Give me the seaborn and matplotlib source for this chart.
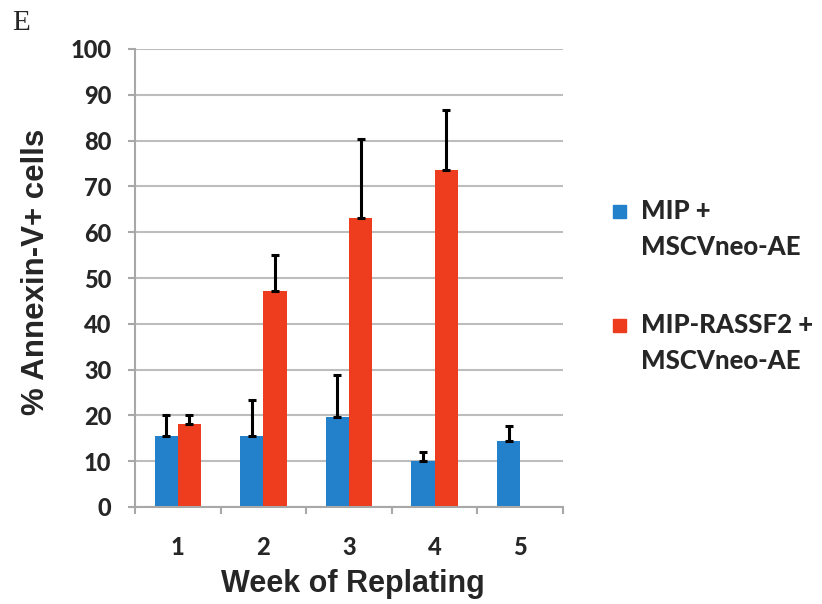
import numpy as np
import pandas as pd
import matplotlib
matplotlib.use("Agg")
import matplotlib.pyplot as plt
import seaborn as sns
from matplotlib.patches import Rectangle
from matplotlib.legend_handler import HandlerPatch

weeks = ["1", "2", "3", "4", "5"]
groups = ["MIP +\nMSCVneo-AE", "MIP-RASSF2 +\nMSCVneo-AE"]
blue_vals = [15.6, 15.6, 19.6, 10.0, 14.5]
blue_err = [4.5, 7.7, 9.2, 1.9, 3.1]
red_vals = [18.2, 47.1, 63.2, 73.5, np.nan]
red_err = [1.9, 7.9, 17.1, 13.2, np.nan]
yticks = [0, 10, 20, 30, 40, 50, 60, 70, 80, 90, 100]
colors = ["#2380CB", "#EE3C1E"]

rows = []
for w, v, e in zip(weeks, blue_vals, blue_err):
    rows.append((w, groups[0], v, e))
for w, v, e in zip(weeks, red_vals, red_err):
    rows.append((w, groups[1], v, e))
df = pd.DataFrame(rows, columns=["week", "group", "value", "err"]).dropna()

sns.set_style("white")
plt.rcParams["font.family"] = ["Lato", "DejaVu Sans"]

fig = plt.figure(figsize=(8.22, 6.04), dpi=100)
ax = fig.add_axes([135 / 822, 1 - 507 / 604, 428 / 822, 458 / 604])

sns.barplot(data=df, x="week", y="value", hue="group", order=weeks,
            hue_order=groups, palette=colors, saturation=1, width=0.54,
            errorbar=None, linewidth=0, ax=ax, zorder=2)

for cont, g in zip(ax.containers, groups):
    sub = df[df["group"] == g].set_index("week")
    for bar in cont:
        xc = bar.get_x() + bar.get_width() / 2
        w = weeks[int(round(xc))]
        h = sub.loc[w, "value"]
        e = sub.loc[w, "err"]
        ax.errorbar([xc], [h], yerr=[[0], [e]], fmt="none", ecolor="black",
                    elinewidth=2.2, capsize=3, capthick=2.2, zorder=3)

ax.set_ylim(0, 100)
ax.set_xlim(-0.5, 4.5)
ax.set_yticks(yticks)
ax.set_yticklabels([str(t) for t in yticks], fontsize=17, fontweight="black")
ax.set_xticklabels(weeks, fontsize=17, fontweight="black")
ax.yaxis.grid(True, color="#BDBDBD", linewidth=1.5, zorder=0)
ax.set_axisbelow(True)
for s in ["top", "right"]:
    ax.spines[s].set_visible(False)
for s in ["left", "bottom"]:
    ax.spines[s].set_color("#A8A8A8")
    ax.spines[s].set_linewidth(1.5)
ax.tick_params(axis="y", which="major", left=True, length=5, width=1.5,
               color="#A8A8A8", pad=12)
ax.set_xticks(np.arange(-0.5, 5.0, 1.0), minor=True)
ax.tick_params(axis="x", which="minor", bottom=True, length=5, width=1.5,
               color="#A8A8A8")
ax.tick_params(axis="x", which="major", bottom=False, length=0, pad=21)

ax.set_ylabel("% Annexin-V+ cells", fontsize=22.5, fontweight="bold",
              family="Liberation Sans")
ax.yaxis.set_label_coords(-0.196, 0.513)
ax.set_xlabel("Week of Replating", fontsize=22, fontweight="bold",
              family="Liberation Sans")
ax.xaxis.set_label_coords(0.51, -0.135)


def top_square(legend, orig_handle, xdescent, ydescent, width, height, fontsize):
    s = 0.5 * fontsize
    return Rectangle((-xdescent, -ydescent + height - s + 0.05 * fontsize), s, s)


handles = [Rectangle((0, 0), 1, 1, color=c) for c in colors]
leg = ax.get_legend()
if leg is not None:
    leg.remove()
lg = fig.legend(handles, groups, loc="upper left",
                bbox_to_anchor=(590 / 822, 1 - 176 / 604),
                frameon=False, prop={"size": 18.5, "weight": "black"},
                handler_map={Rectangle: HandlerPatch(patch_func=top_square)},
                handlelength=0.7, handleheight=2.6, handletextpad=0.4,
                labelspacing=2.1)
for t in lg.get_texts():
    t.set_linespacing(1.6)

fig.text(12 / 822, 1 - 30 / 604, "E", fontsize=21, family="Liberation Serif",
         ha="left", va="baseline")

fig.savefig("out.png", dpi=100)
